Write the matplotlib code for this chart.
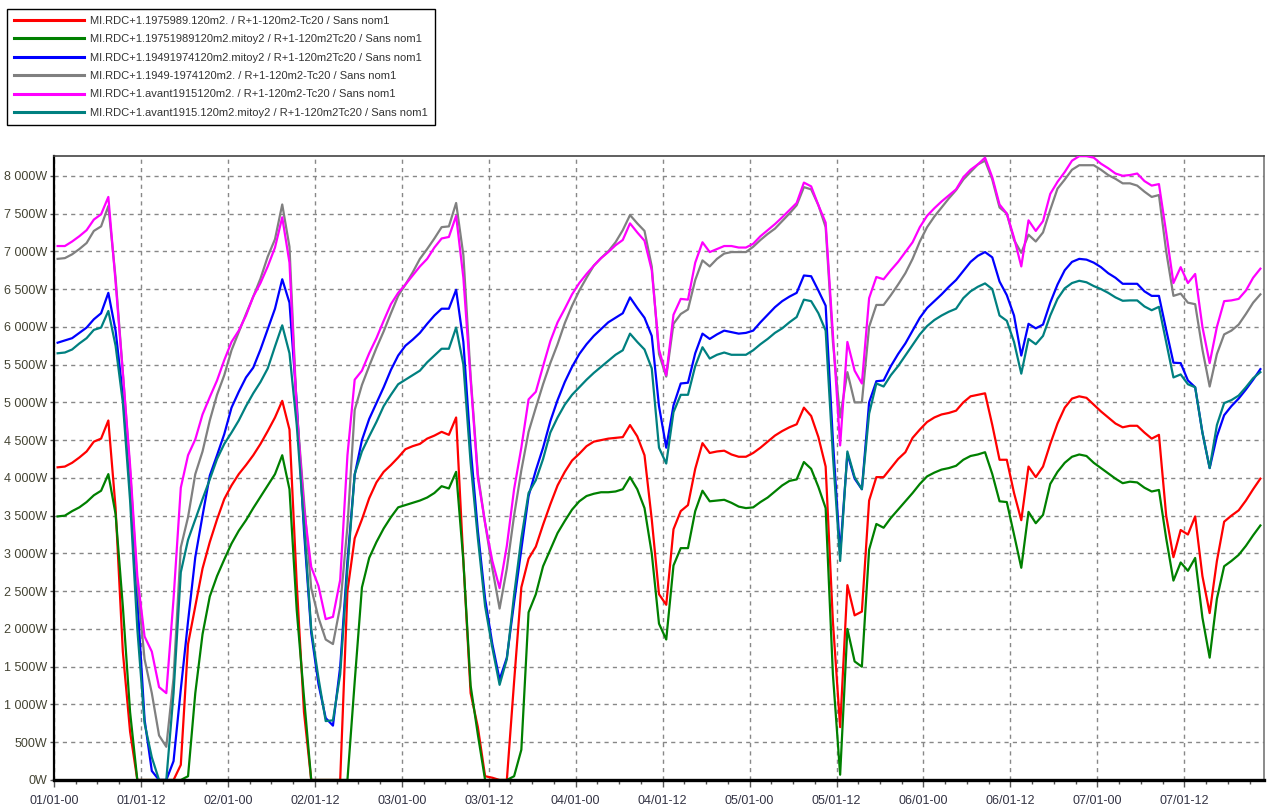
import numpy as np
import matplotlib
matplotlib.use("Agg")
import matplotlib.pyplot as plt
from matplotlib.ticker import MultipleLocator, FixedLocator

plt.rcParams["font.family"] = ["Liberation Sans", "DejaVu Sans"]

# ---------------- data (hourly values, W) ----------------
series_labels = [
    "MI.RDC+1.1975989.120m2. / R+1-120m2-Tc20 / Sans nom1",
    "MI.RDC+1.19751989120m2.mitoy2 / R+1-120m2Tc20 / Sans nom1",
    "MI.RDC+1.19491974120m2.mitoy2 / R+1-120m2Tc20 / Sans nom1",
    "MI.RDC+1.1949-1974120m2. / R+1-120m2-Tc20 / Sans nom1",
    "MI.RDC+1.avant1915120m2. / R+1-120m2-Tc20 / Sans nom1",
    "MI.RDC+1.avant1915.120m2.mitoy2 / R+1-120m2Tc20 / Sans nom1",
]
series_colors = ["#ff0000", "#008000", "#0000ff", "#808080", "#ff00ff", "#008080"]

red = [
    4140, 4150, 4200, 4270, 4350, 4480, 4520, 4760, 3600, 1700, 640, 0, 0, 0, 0, 0, 0, 200, 1800, 2300, 2800, 3150, 3450, 3720,
    3900, 4050, 4170, 4300, 4450, 4620, 4800, 5020, 4640, 2600, 900, 0, 0, 0, 0, 0, 2500, 3200, 3450, 3730, 3940, 4080, 4170, 4270,
    4380, 4420, 4450, 4520, 4560, 4610, 4570, 4800, 2900, 1150, 700, 50, 30, 0, 0, 1300, 2550, 2930, 3090, 3380, 3650, 3900, 4080, 4230,
    4320, 4420, 4480, 4500, 4520, 4530, 4540, 4700, 4550, 4300, 3450, 2460, 2320, 3320, 3560, 3640, 4120, 4460, 4330, 4350, 4360, 4310, 4280, 4280,
    4330, 4400, 4480, 4560, 4620, 4670, 4710, 4930, 4820, 4540, 4150, 2100, 700, 2580, 2180, 2230, 3700, 4010, 4010, 4130, 4250, 4340, 4530, 4640,
    4740, 4800, 4840, 4860, 4890, 5000, 5080, 5100, 5120, 4700, 4240, 4240, 3800, 3440, 4150, 4010, 4150, 4450, 4720, 4930, 5050, 5080, 5060, 4970,
    4880, 4800, 4720, 4670, 4690, 4690, 4600, 4520, 4570, 3500, 2950, 3310, 3250, 3490, 2700, 2210, 2900, 3420, 3500, 3570, 3700, 3850, 3990,
]
green = [
    3490, 3500, 3560, 3610, 3680, 3770, 3830, 4050, 3520, 2300, 900, 0, 0, 0, 0, 0, 0, 0, 50, 1150, 1930, 2430, 2700, 2920,
    3130, 3300, 3440, 3600, 3750, 3900, 4050, 4300, 3850, 2250, 1100, 0, 0, 0, 0, 0, 0, 1300, 2550, 2940, 3150, 3330, 3480, 3610,
    3640, 3670, 3700, 3740, 3800, 3890, 3860, 4080, 2900, 1250, 600, 0, 0, 0, 0, 50, 400, 2220, 2460, 2830, 3050, 3270, 3430, 3580,
    3690, 3760, 3790, 3810, 3810, 3820, 3850, 4010, 3850, 3600, 3000, 2070, 1860, 2840, 3070, 3070, 3560, 3830, 3690, 3700, 3710, 3670, 3620, 3600,
    3610, 3680, 3740, 3820, 3900, 3960, 3980, 4210, 4120, 3880, 3600, 1400, 70, 2000, 1570, 1500, 3050, 3390, 3340, 3470, 3580, 3690, 3800, 3920,
    4020, 4070, 4110, 4130, 4160, 4240, 4290, 4310, 4340, 4050, 3690, 3680, 3250, 2810, 3550, 3400, 3510, 3920, 4080, 4200, 4280, 4310, 4290, 4200,
    4130, 4060, 3990, 3930, 3950, 3940, 3870, 3820, 3840, 3200, 2640, 2880, 2770, 2940, 2150, 1620, 2400, 2830, 2900, 2980, 3100, 3240, 3370,
]
blue = [
    5790, 5820, 5850, 5920, 5990, 6100, 6180, 6450, 5950, 5100, 3900, 2400, 800, 120, 0, 0, 250, 1200, 2100, 2950, 3500, 4030, 4300, 4580,
    4930, 5140, 5330, 5460, 5700, 5970, 6240, 6630, 6320, 5000, 3300, 1950, 1270, 820, 720, 1500, 2900, 4040, 4500, 4780, 4990, 5200, 5430, 5620,
    5750, 5830, 5920, 6040, 6150, 6240, 6240, 6490, 5800, 4400, 3300, 2400, 1800, 1330, 1620, 2350, 3050, 3760, 4100, 4400, 4750, 5030, 5270, 5470,
    5640, 5770, 5880, 5970, 6060, 6120, 6180, 6390, 6250, 6120, 5880, 4950, 4400, 4960, 5250, 5260, 5650, 5910, 5840, 5900, 5950, 5930, 5910, 5920,
    5950, 6060, 6160, 6260, 6340, 6400, 6450, 6680, 6670, 6480, 6280, 4500, 3000, 4320, 3990, 3850, 5000, 5280, 5290, 5480, 5640, 5780, 5950, 6120,
    6250, 6340, 6430, 6530, 6620, 6740, 6860, 6940, 6990, 6920, 6600, 6420, 6150, 5620, 6040, 5980, 6030, 6320, 6560, 6750, 6860, 6900, 6890, 6850,
    6790, 6710, 6650, 6570, 6570, 6570, 6470, 6410, 6410, 5960, 5525, 5520, 5290, 5200, 4600, 4130, 4550, 4830, 4950, 5050, 5170, 5300, 5440,
]
gray = [
    6900, 6910, 6960, 7030, 7110, 7270, 7330, 7600, 6650, 5400, 4100, 2600, 1600, 1150, 590, 440, 1350, 3080, 3480, 4050, 4350, 4760, 5100, 5360,
    5690, 5930, 6170, 6400, 6640, 6930, 7160, 7620, 7060, 4900, 3700, 2540, 2150, 1860, 1800, 2300, 3360, 4900, 5230, 5480, 5720, 5940, 6180, 6410,
    6560, 6720, 6900, 7030, 7170, 7320, 7330, 7640, 6950, 5350, 4050, 3400, 2800, 2270, 2800, 3500, 4100, 4610, 4930, 5240, 5520, 5770, 6050, 6280,
    6480, 6650, 6810, 6910, 7000, 7120, 7280, 7480, 7370, 7270, 6800, 5640, 5340, 6040, 6170, 6230, 6620, 6880, 6800, 6900, 6970, 6990, 6990, 6990,
    7060, 7150, 7230, 7300, 7400, 7500, 7610, 7850, 7820, 7610, 7320, 5800, 4800, 5400, 5000, 5000, 6000, 6290, 6290, 6420, 6560, 6710, 6900, 7130,
    7320, 7460, 7580, 7700, 7810, 7950, 8050, 8150, 8200, 7950, 7580, 7500, 7150, 6980, 7220, 7130, 7250, 7550, 7830, 7950, 8080, 8140, 8140, 8140,
    8080, 8010, 7960, 7900, 7900, 7870, 7790, 7720, 7745, 7000, 6410, 6440, 6320, 6300, 5700, 5210, 5640, 5900, 5950, 6030, 6170, 6320, 6430,
]
magenta = [
    7070, 7070, 7130, 7200, 7280, 7420, 7490, 7720, 6590, 5390, 4170, 2700, 1900, 1700, 1230, 1150, 2400, 3870, 4300, 4510, 4840, 5070, 5290, 5560,
    5800, 5950, 6150, 6400, 6580, 6800, 7050, 7450, 6850, 4870, 3600, 2820, 2570, 2130, 2160, 2650, 4300, 5300, 5420, 5650, 5850, 6080, 6300, 6450,
    6560, 6680, 6800, 6900, 7050, 7170, 7190, 7470, 6650, 5300, 4000, 3400, 2900, 2540, 3100, 3850, 4400, 5040, 5140, 5480, 5810, 6060, 6240, 6430,
    6580, 6700, 6810, 6910, 6990, 7080, 7150, 7370, 7250, 7140, 6750, 5700, 5360, 6160, 6370, 6360, 6850, 7120, 6990, 7030, 7070, 7070, 7050, 7050,
    7100, 7200, 7280, 7360, 7450, 7545, 7640, 7910, 7860, 7610, 7380, 5900, 4430, 5800, 5420, 5250, 6380, 6660, 6630, 6750, 6860, 6990, 7120, 7320,
    7470, 7570, 7660, 7740, 7820, 7980, 8080, 8150, 8240, 7980, 7620, 7500, 7180, 6800, 7410, 7270, 7400, 7760, 7920, 8050, 8200, 8260, 8260, 8240,
    8160, 8100, 8030, 8000, 8010, 8030, 7930, 7870, 7890, 7250, 6580, 6790, 6580, 6700, 6000, 5520, 6000, 6340, 6350, 6370, 6480, 6650, 6770,
]
teal = [
    5650, 5660, 5700, 5780, 5850, 5960, 5990, 6210, 5750, 5000, 3700, 2000, 750, 300, 0, 0, 1150, 2750, 3180, 3450, 3720, 3980, 4250, 4450,
    4600, 4760, 4950, 5120, 5270, 5450, 5740, 6020, 5650, 4700, 3400, 2000, 1350, 780, 790, 1400, 2800, 4050, 4350, 4550, 4740, 4950, 5100, 5240,
    5300, 5360, 5420, 5530, 5620, 5710, 5710, 5990, 5500, 4200, 3200, 2300, 1750, 1260, 1600, 2450, 3200, 3800, 3970, 4250, 4600, 4800, 4970, 5100,
    5200, 5300, 5390, 5470, 5550, 5630, 5690, 5910, 5800, 5700, 5450, 4400, 4190, 4870, 5100, 5100, 5480, 5730, 5580, 5630, 5660, 5630, 5630, 5630,
    5690, 5770, 5840, 5920, 5980, 6060, 6130, 6360, 6340, 6180, 5950, 4300, 2900, 4350, 4010, 3850, 4850, 5250, 5210, 5360, 5480, 5620, 5760, 5900,
    6010, 6090, 6150, 6200, 6240, 6380, 6470, 6530, 6575, 6500, 6150, 6080, 5800, 5380, 5840, 5770, 5880, 6150, 6370, 6510, 6580, 6610, 6590, 6540,
    6500, 6450, 6390, 6345, 6350, 6350, 6270, 6220, 6265, 5800, 5330, 5370, 5240, 5200, 4600, 4130, 4700, 4990, 5030, 5090, 5200, 5320, 5400,
]

x_tick_labels = ["01/01-00", "01/01-12", "02/01-00", "02/01-12", "03/01-00", "03/01-12",
                 "04/01-00", "04/01-12", "05/01-00", "05/01-12", "06/01-00", "06/01-12",
                 "07/01-00", "07/01-12"]
x_tick_hours = [0, 12, 24, 36, 48, 60, 72, 84, 96, 108, 120, 132, 144, 156]
y_tick_values = [0, 500, 1000, 1500, 2000, 2500, 3000, 3500, 4000, 4500, 5000, 5500, 6000, 6500, 7000, 7500, 8000]

# ---------------- figure ----------------
W, H = 1272, 807
fig = plt.figure(figsize=(W / 100, H / 100), dpi=100)
fig.patch.set_facecolor("white")
ax = fig.add_axes([54 / W, 1 - 780 / H, 1210 / W, 624 / H])

handles = []
for vals, lab, col in zip([red, green, blue, gray, magenta, teal], series_labels, series_colors):
    t = np.arange(len(vals)) + 0.5
    h, = ax.plot(t, vals, color=col, lw=1.6, label=lab, clip_on=True, zorder=3)
    handles.append(h)

ax.set_xlim(0, 167)
ax.set_ylim(0, 8262)

ax.xaxis.set_major_locator(FixedLocator(x_tick_hours))
ax.set_xticklabels(x_tick_labels)
ax.xaxis.set_minor_locator(MultipleLocator(3))
ax.set_yticks(y_tick_values)
ax.set_yticklabels([f"{v:,}".replace(",", " ") + "W" for v in y_tick_values])

ax.grid(True, which="major", linestyle=(0, (3, 3)), color="#888888", lw=1.0, zorder=1)

ax.tick_params(axis="x", which="major", length=5, width=1, color="#555555",
               labelsize=9, labelcolor="#333344", pad=6)
ax.tick_params(axis="x", which="minor", length=3, width=1, color="#555555")
ax.tick_params(axis="y", which="major", length=3, width=1, color="#555555",
               labelsize=9, labelcolor="#444433", pad=2)

ax.spines["bottom"].set_linewidth(2.4)
ax.spines["bottom"].set_color("black")
ax.spines["bottom"].set_zorder(5)
ax.spines["left"].set_linewidth(1.6)
ax.spines["left"].set_color("black")
ax.spines["top"].set_linewidth(1.2)
ax.spines["top"].set_color("#444444")
ax.spines["right"].set_linewidth(1.2)
ax.spines["right"].set_color("#777777")

leg = fig.legend(handles, series_labels, loc="upper left",
                 bbox_to_anchor=(7 / W, 1 - 9 / H), bbox_transform=fig.transFigure,
                 frameon=True, fancybox=False, edgecolor="black", framealpha=1,
                 fontsize=8.0, handlelength=6.3, handletextpad=0.6,
                 labelspacing=0.76, borderpad=0.6, borderaxespad=0)
leg.get_frame().set_linewidth(1.0)
for txt in leg.get_texts():
    txt.set_color("#333333")
for ln in leg.get_lines():
    ln.set_linewidth(2.2)

fig.savefig("out.png", dpi=100, facecolor="white")
